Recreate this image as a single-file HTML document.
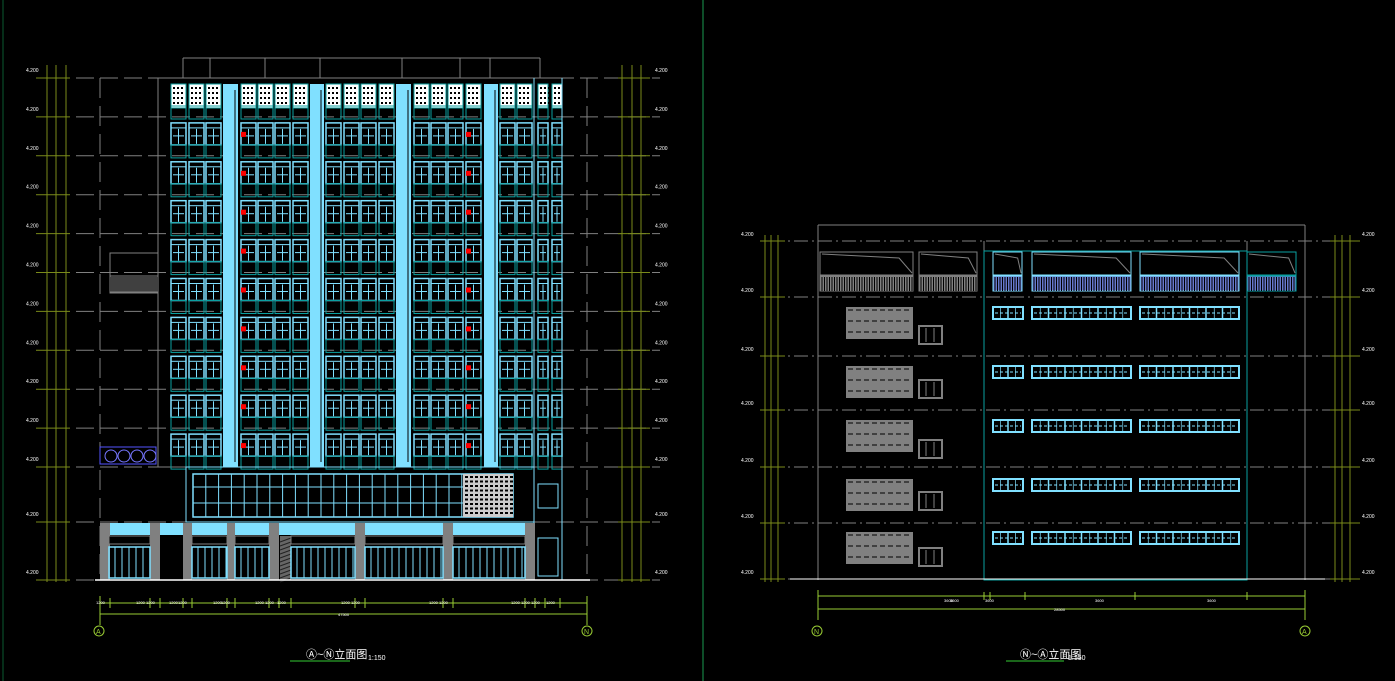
<!DOCTYPE html>
<html><head><meta charset="utf-8">
<style>
html,body{margin:0;padding:0;background:#000;width:1395px;height:681px;overflow:hidden}
svg{display:block}
text{font-family:"Liberation Sans","Noto Sans CJK SC",sans-serif}
</style></head>
<body>
<svg id="s" width="1395" height="681" viewBox="0 0 1395 681" xmlns="http://www.w3.org/2000/svg">
<rect width="1395" height="681" fill="#000"/>
<line x1="703" y1="0" x2="703" y2="681" stroke="#1a9a50" stroke-width="1"/>
<line x1="3" y1="0" x2="3" y2="681" stroke="#0a5a30" stroke-width="1"/>
<g id="g"></g>
<text x="306" y="658" fill="#fff" font-size="11">Ⓐ~Ⓝ立面图</text>
<text x="368" y="660" fill="#fff" font-size="7">1:150</text>
<line x1="290" y1="661" x2="350" y2="661" stroke="#3c3" stroke-width="1"/>
<text x="1020" y="658" fill="#fff" font-size="11">Ⓝ~Ⓐ立面图</text>
<text x="1068" y="660" fill="#fff" font-size="7">1:150</text>
<line x1="1006" y1="661" x2="1064" y2="661" stroke="#3c3" stroke-width="1"/>
<text x="96" y="634" fill="#9c3" font-size="7">A</text>
<text x="584" y="634" fill="#9c3" font-size="7">N</text>
<text x="814" y="634" fill="#9c3" font-size="7">N</text>
<text x="1302" y="634" fill="#9c3" font-size="7">A</text>
</svg>
<script>
var g=document.getElementById('g'),h='';
function R(x,y,w,H,f,s,sw){h+='<rect x="'+x+'" y="'+y+'" width="'+w+'" height="'+H+'" fill="'+(f||'none')+'" stroke="'+(s||'none')+'" stroke-width="'+(sw||1)+'"/>';}
function L(x1,y1,x2,y2,s,d,sw){h+='<line x1="'+x1+'" y1="'+y1+'" x2="'+x2+'" y2="'+y2+'" stroke="'+s+'" stroke-width="'+(sw||1)+'"'+(d?' stroke-dasharray="'+d+'"':'')+'/>';}
function C(x,y,r,s){h+='<circle cx="'+x+'" cy="'+y+'" r="'+r+'" fill="none" stroke="'+s+'"/>';}
var OL='#7a8a1a',GR='#808080',CY='#80e0ff',TE='#0aa0a0';
/* LEFT */
var fl=[];for(var i=0;i<=10;i++)fl.push(78+i*38.9);
fl.push(522);fl.push(580);
fl.forEach(function(y){L(76,y,660,y,GR,'18 6');});
L(183,58,540,58,GR);L(183,58,183,78,GR);L(540,58,540,78,GR);
[210,265,320,402,460,490].forEach(function(x){L(x,58,x,78,GR);});
L(100,78,100,580,GR,'20 8');L(587,78,587,580,GR,'20 8');
[47,56,66].forEach(function(x){L(x,65,x,582,OL);});
[622,632,641].forEach(function(x){L(x,65,x,582,OL);});
fl.forEach(function(y){L(36,y,70,y,OL);L(618,y,650,y,OL);h+='<text x="26" y="'+(y-6)+'" fill="#fff" font-size="5">4.200</text><text x="655" y="'+(y-6)+'" fill="#fff" font-size="5">4.200</text>';});
R(158,78,404,389,'none',GR);
var cols=[171,189,206,241,258,275,293,326,344,361,379,414,431,448,466,500,517,538,552];
for(var f=0;f<10;f++){var y=84+f*38.9;
 cols.forEach(function(x,k){var w=(k>=17)?10:15;
  if(f==0){R(x,y,w,24,'#fff',TE);for(var a=0;a<3;a++)for(var b=0;b<4;b++)R(x+2+a*4,y+3+b*5,2,2,'#000');}
  else{R(x,y,w,22,'none',CY,1.5);L(x+w/2,y+6,x+w/2,y+21,CY);L(x,y+5,x+w,y+5,CY);L(x+2,y+13,x+w-2,y+13,CY);}
  R(x,y+22,w,13,'none',TE);
 });
 if(f>0){R(241,y+9,5,5,'#f00');R(466,y+9,5,5,'#f00');}
}
[[223,15],[310,14],[396,15],[484,14]].forEach(function(p){R(p[0],84,p[1],383,CY);L(p[0]+p[1]-3,90,p[0]+p[1]-3,462,'#000');});
L(534,78,534,580,CY);L(562,78,562,580,CY);
R(110,253,48,40,'none',GR);R(110,276,48,16,'none',GR);for(var x=112;x<158;x+=2)L(x,277,x,292,GR);
R(100,447,56,17,'none','#55f');for(var x=105;x<155;x+=13)C(x+6,456,6,'#77f');
/* podium */
R(186,467,348,55,'none',CY);R(193,474,320,43,'none',CY,1.5);
for(var x=193;x<463;x+=12.8)L(x,474,x,517,CY);L(193,487,463,487,CY);L(193,503,463,503,CY);
R(463,474,50,43,'#ccc');for(var a=0;a<10;a++)for(var b=0;b<9;b++)R(465+a*5,476+b*4.5,3,2,'#000');
R(538,484,20,24,'none',CY);R(538,538,20,38,'none',CY);
R(100,523,435,12,CY);
[[100,10],[150,10],[183,9],[227,8],[269,10],[355,10],[443,10],[525,10]].forEach(function(p){R(p[0],523,p[1],57,GR);});
R(280,536,11,44,'#666');for(var y=538;y<580;y+=4)L(280,y+4,291,y,'#222');
[[109,41],[192,35],[235,34],[291,64],[365,78],[453,72]].forEach(function(p){
 R(p[0],536,p[1],8,'#000',GR);R(p[0],547,p[1],31,'none',CY,1.5);
 for(var x=p[0]+6;x<p[0]+p[1];x+=7)L(x,547,x,578,CY);
});
R(161,536,22,44,'#000');L(95,580,590,580,'#fff',null,1.5);
/* dims left */
L(100,603,587,603,'#9c3');L(100,614,587,614,'#9c3');L(100,596,100,625,'#9c3');L(587,596,587,625,'#9c3');
[110,150,160,183,192,227,235,269,279,291,355,365,443,453,525,535,545,560].forEach(function(x){L(x,598,x,608,'#9c3');h+='<text x="'+(x-14)+'" y="604" fill="#fff" font-size="4">1200</text>';});
h+='<text x="338" y="616" fill="#fff" font-size="4">47500</text>';
C(99,631,5,'#9c3');C(587,631,5,'#9c3');
/* RIGHT */
var rf=[241,297,356,410,467,523,579];
rf.forEach(function(y){L(770,y,1340,y,GR,'14 4 2 4');});
L(818,225,1305,225,GR);L(818,225,818,580,GR);L(1305,225,1305,580,GR);L(984,241,984,580,GR);L(1247,241,1247,580,GR);
R(984,251,263,329,'none',TE);
[765,771,778].forEach(function(x){L(x,235,x,582,OL);});
[1335,1342,1350].forEach(function(x){L(x,235,x,582,OL);});
rf.forEach(function(y){L(760,y,785,y,OL);L(1330,y,1360,y,OL);h+='<text x="741" y="'+(y-5)+'" fill="#fff" font-size="5">4.200</text><text x="1362" y="'+(y-5)+'" fill="#fff" font-size="5">4.200</text>';});
function band(x,w,st,fill){R(x,252,w,23,'none',st);h+='<polyline points="'+(x+2)+',254 '+(x+w*0.85)+',258 '+(x+w-1)+',273" fill="none" stroke="'+GR+'"/>';R(x,276,w,15,fill||'none',st);for(var xx=x+2;xx<x+w;xx+=2.5)L(xx,277,xx,291,'#000');}
band(820,93,GR,GR);band(919,58,GR,GR);band(993,29,CY,'#6678cc');band(1032,99,CY,'#6678cc');band(1140,99,CY,'#6678cc');band(1247,49,TE,'#6678cc');
[[307,326],[366,380],[420,440],[479,492],[532,548]].forEach(function(p){
 R(846,p[0],67,32,GR);for(var k=0;k<3;k++)L(848,p[0]+3+k*11,911,p[0]+3+k*11,'#000','5 3');
 R(919,p[1],23,18,'none',GR,2);L(926,p[1]+2,926,p[1]+16,GR);L(934,p[1]+2,934,p[1]+16,GR);
 var y=p[0];
 [[993,30,4],[1032,99,12],[1140,99,12]].forEach(function(q){R(q[0],y,q[1],12,'none',CY,2);for(var k=1;k<q[2];k++)L(q[0]+k*q[1]/q[2],y,q[0]+k*q[1]/q[2],y+12,CY,null,k%2?0.7:1.5);L(q[0]+2,y+6,q[0]+q[1]-2,y+6,CY,'3 2');});
});
L(790,579,1325,579,'#fff');
L(818,596,1305,596,'#9c3');L(818,609,1305,609,'#9c3');L(818,590,818,620,'#9c3');L(1305,590,1305,620,'#9c3');
[984,990,1025,1135,1247].forEach(function(x){L(x,592,x,600,'#9c3');h+='<text x="'+(x-40)+'" y="602" fill="#fff" font-size="4">3600</text>';});
h+='<text x="1054" y="611" fill="#fff" font-size="4">28500</text>';
C(817,631,5,'#9c3');C(1305,631,5,'#9c3');
g.innerHTML=h;
</script>
</body></html>
